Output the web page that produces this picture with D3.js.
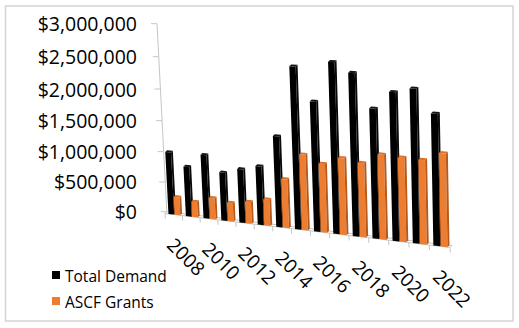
<!DOCTYPE html>
<html>
<head>
<meta charset="utf-8">
<script src="https://cdn.jsdelivr.net/npm/d3@7"></script>
<style>
  html, body { margin: 0; padding: 0; background: #fff; }
  text { font-family: "Open Sans", sans-serif; fill: #000; }
</style>
</head>
<body>
<script>
// categories and series
const years = ['2008','2009','2010','2011','2012','2013','2014','2015','2016','2017','2018','2019','2020','2021','2022'];
const yearLabels = ['2008','2010','2012','2014','2016','2018','2020','2022'];
const seriesNames = ['Total Demand','ASCF Grants'];
const totalDemand = [1030000, 820000, 1040000, 785000, 870000, 945000, 1440000, 2510000, 2010000, 2610000, 2470000, 1975000, 2235000, 2305000, 1970000];
const ascfGrants  = [300000, 255000, 350000, 305000, 355000, 425000, 780000, 1195000, 1080000, 1195000, 1150000, 1305000, 1285000, 1280000, 1405000];
const yTicks = [0, 500000, 1000000, 1500000, 2000000, 2500000, 3000000];

const W = 519, Hh = 328;

const svg = d3.select('body').append('svg')
    .attr('width', W).attr('height', Hh);

// outer frame
svg.append('rect')
    .attr('x', 5.5).attr('y', 6).attr('width', 507.5).attr('height', 315)
    .attr('fill', 'none').attr('stroke', '#d4d4d4').attr('stroke-width', 1.5);

// --- scales ---
const x = d3.scaleBand().domain(years).range([0, 1]);
const inner = d3.scaleBand().domain(seriesNames).range([0.2, 0.88]).paddingInner(0.06);
const y = d3.scaleLinear().domain([0, 3000000]).range([0, 1]);

// --- cheap 3d projection: s along categories, v value, z depth (0 front, 1 back) ---
const P0 = [165, 213.5], P1 = [450, 247.5], DZ = [1.8, -1.8];
const KS = 1.1, KV = 1.065, WALL = 188;
const fs = s => s / (KS - (KS - 1) * s);
const gs = s => KS / (KS - (KS - 1) * s);
const hv = u => WALL * u / (KV - (KV - 1) * u);
const lean = s => 0.052 - 0.035 * s;

function proj(s, v, z) {
    const t = fs(s), k = gs(s), h = hv(y(v)) * k;
    return [
        P0[0] + t * (P1[0] - P0[0]) - lean(s) * h + z * DZ[0] * k,
        P0[1] + t * (P1[1] - P0[1]) - h + z * DZ[1] * k
    ];
}
const poly = pts => 'M' + pts.map(p => p.join(',')).join('L') + 'Z';

// --- floor ---
const floor = svg.append('g').attr('fill', 'none').attr('stroke', '#c6c6c6').attr('stroke-width', 1);
floor.append('path').attr('d', poly([proj(0,0,0), proj(1,0,0), proj(1,0,1), proj(0,0,1)]));

// category ticks hanging from the front edge
const bounds = years.map(d => x(d)).concat([1]);
floor.selectAll('line.tick')
    .data(bounds)
    .join('line')
    .attr('x1', d => proj(d,0,0)[0]).attr('y1', d => proj(d,0,0)[1])
    .attr('x2', d => proj(d,0,0)[0] + 0.3).attr('y2', d => proj(d,0,0)[1] + 5);

// --- value axis on the back-left corner ---
const axis = svg.append('g').attr('stroke', '#c6c6c6').attr('stroke-width', 1);
axis.append('line')
    .attr('x1', proj(0,0,1)[0]).attr('y1', proj(0,0,1)[1])
    .attr('x2', proj(0,3000000,1)[0]).attr('y2', proj(0,3000000,1)[1]);
axis.selectAll('line.ytick')
    .data(yTicks)
    .join('line')
    .attr('x1', d => proj(0,d,1)[0] - 6).attr('y1', d => proj(0,d,1)[1])
    .attr('x2', d => proj(0,d,1)[0]).attr('y2', d => proj(0,d,1)[1]);

const fmt = d3.format('$,.0f');
svg.append('g').selectAll('text')
    .data(yTicks)
    .join('text')
    .attr('x', 137)
    .attr('y', d => proj(0,d,1)[1])
    .attr('text-anchor', 'end')
    .attr('dominant-baseline', 'central')
    .style('font-size', '19.5px')
    .text(d => fmt(d));

// --- bars ---
const bars = [];
years.forEach((yr, i) => {
    bars.push({ year: yr, key: seriesNames[0], value: totalDemand[i],
                front: '#000', side: '#0a0a0a', top: '#141414' });
    bars.push({ year: yr, key: seriesNames[1], value: ascfGrants[i],
                front: '#ED7D31', side: '#B55A1C', top: '#DB7029' });
});

const barG = svg.append('g');
bars.forEach(b => {
    const s0 = x(b.year) + x.bandwidth() * inner(b.key);
    const s1 = s0 + x.bandwidth() * inner.bandwidth();
    const g = barG.append('g');
    // front face
    g.append('path')
        .attr('d', poly([proj(s0,0,0), proj(s1,0,0), proj(s1,b.value,0), proj(s0,b.value,0)]))
        .attr('fill', b.front);
    // right side face
    g.append('path')
        .attr('d', poly([proj(s1,0,0), proj(s1,0,1), proj(s1,b.value,1), proj(s1,b.value,0)]))
        .attr('fill', b.side);
    // top face
    g.append('path')
        .attr('d', poly([proj(s0,b.value,0), proj(s1,b.value,0), proj(s1,b.value,1), proj(s0,b.value,1)]))
        .attr('fill', b.top);
});

// --- year labels, every other category ---
svg.append('g').selectAll('text')
    .data(yearLabels)
    .join('text')
    .attr('transform', d => {
        const p = proj(x(d) + x.bandwidth() / 2, 0, 0);
        return `translate(${p[0] + 3.5},${p[1] + 20.5}) rotate(45)`;
    })
    .attr('dominant-baseline', 'hanging')
    .style('font-size', '19px')
    .text(d => d);

// --- legend ---
const legend = svg.append('g');
const legendColors = ['#000', '#ED7D31'];
const lg = legend.selectAll('g')
    .data(seriesNames)
    .join('g')
    .attr('transform', (d, i) => `translate(52,${271 + i * 26})`);
lg.append('rect').attr('width', 8).attr('height', 8).attr('fill', (d, i) => legendColors[i]);
lg.append('text')
    .attr('x', 13).attr('y', 4.5)
    .attr('dominant-baseline', 'central')
    .style('font-size', '15.5px')
    .text(d => d);
</script>
</body>
</html>
